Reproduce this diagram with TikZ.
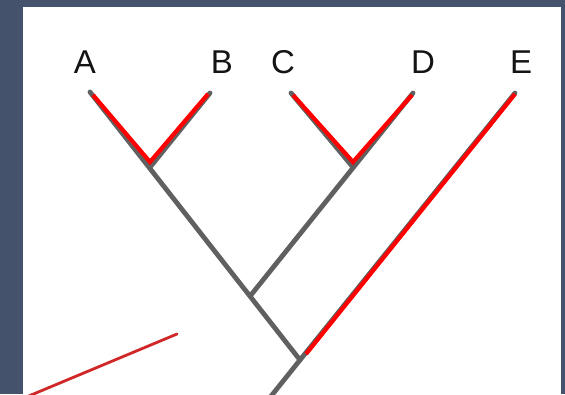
\documentclass[tikz,border=0pt]{standalone}
\usepackage{fontspec}
\setmainfont{Liberation Sans}
\definecolor{bgslate}{RGB}{68,83,107}
\definecolor{branchgray}{RGB}{96,96,96}
\definecolor{hilite}{RGB}{255,0,0}
\definecolor{pointer}{RGB}{208,40,40}
\definecolor{labelink}{RGB}{20,20,20}
\tikzset{
  branch/.style={draw=branchgray, line width=4.8pt, line cap=round},
  redpath/.style={draw=hilite, line width=4.2pt, line cap=butt, line join=miter},
  pointerline/.style={draw=pointer, line width=2.8pt, line cap=round},
  taxon/.style={anchor=base, text=labelink, font=\fontsize{33}{33}\selectfont, inner sep=0pt}
}
\begin{document}
\begin{tikzpicture}[x=1pt,y=-1pt]
  \useasboundingbox (0,0) rectangle (565,394);
  \clip (0,0) rectangle (565,394);
  \fill[bgslate] (0,0) rectangle (565,394);
  \fill[white] (23,7) rectangle (561,400);

  % labels
  \node[taxon] (labA) at (85,73) {A};
  \node[taxon] (labB) at (222,73) {B};
  \node[taxon] (labC) at (283,73) {C};
  \node[taxon] (labD) at (423,73) {D};
  \node[taxon] (labE) at (521,73) {E};

  % tree coordinates
  \coordinate (tA) at (90,92);
  \coordinate (tB) at (210,93);
  \coordinate (tC) at (291,93);
  \coordinate (tD) at (413,93);
  \coordinate (tE) at (515,93);
  \coordinate (jAB) at (151,166);
  \coordinate (jCD) at (352,166);
  \coordinate (jABCD) at (251,295);
  \coordinate (root) at (300,360);
  \coordinate (stem) at (268,400);

  % gray branches
  \draw[branch] (tA) -- (root);
  \draw[branch] (tB) -- (jAB);
  \draw[branch] (tC) -- (jCD);
  \draw[branch] (tD) -- (jABCD);
  \draw[branch] (tE) -- (root) -- (stem);

  % red highlights
  \coordinate (rA) at (93,95);
  \coordinate (rB) at (208,94);
  \coordinate (rAB) at (150,162);
  \coordinate (rC) at (293,95);
  \coordinate (rD) at (412,95);
  \coordinate (rCD) at (353,162);
  \coordinate (rE) at (515,94);
  \coordinate (rEend) at (306,354);
  \draw[redpath] (rA) -- (rAB) -- (rB);
  \draw[redpath] (rC) -- (rCD) -- (rD);
  \draw[redpath] (rE) -- (rEend);

  % pointer line
  \coordinate (pStart) at (24,398);
  \coordinate (pEnd) at (177,334);
  \draw[pointerline] (pStart) -- (pEnd);
\end{tikzpicture}
\end{document}
